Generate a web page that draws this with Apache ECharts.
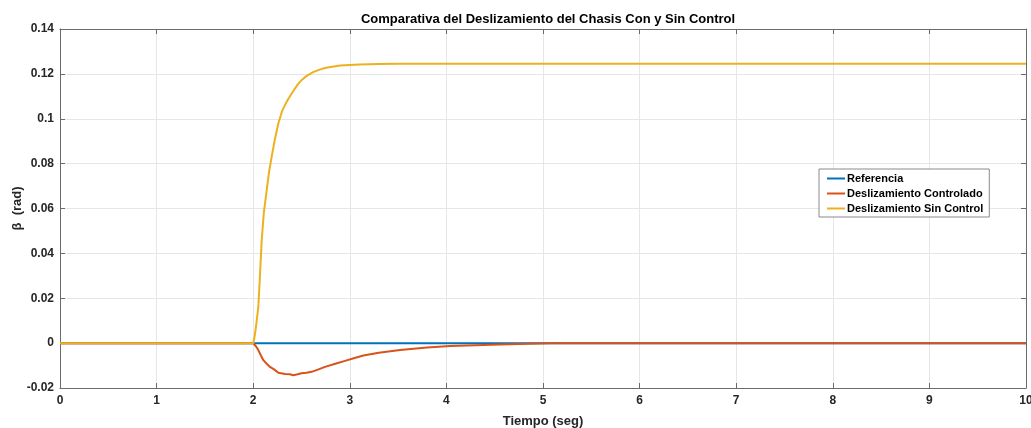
<!DOCTYPE html>
<html>
<head>
<meta charset="utf-8">
<script src="https://cdn.jsdelivr.net/npm/echarts@6/dist/echarts.min.js"></script>
<style>html,body{margin:0;padding:0;background:#fff}#c{width:1031px;height:428px}</style>
</head>
<body>
<div id="c"></div>
<script>
const seriesNames = ["Referencia", "Deslizamiento Controlado", "Deslizamiento Sin Control"];
const tRef = [0, 10];
const vRef = [0, 0];
const tCtrl = [0, 2.0, 2.03, 2.053, 2.08, 2.105, 2.14, 2.174, 2.22, 2.26, 2.33, 2.38, 2.415, 2.46, 2.5, 2.55, 2.605, 2.67, 2.743, 2.85, 2.95, 3.05, 3.14, 3.3, 3.52, 3.8, 4.04, 4.3, 4.55, 5.07, 6, 10];
const vCtrl = [0, 0, -0.0015, -0.0031, -0.0055, -0.0076, -0.0092, -0.0106, -0.0118, -0.0132, -0.0138, -0.0139, -0.0143, -0.0139, -0.0134, -0.0132, -0.0128, -0.0118, -0.0106, -0.0092, -0.0079, -0.0066, -0.0055, -0.0043, -0.0031, -0.0020, -0.0013, -0.0009, -0.0006, -0.0001, 0, 0];
const tFree = [0, 2.0, 2.01, 2.02, 2.035, 2.053, 2.07, 2.088, 2.11, 2.14, 2.165, 2.191, 2.225, 2.26, 2.3, 2.33, 2.363, 2.42, 2.46, 2.5, 2.55, 2.62, 2.68, 2.743, 2.8, 2.9, 3.0, 3.1, 3.3, 3.5, 4, 10];
const vFree = [0, 0, 0.0018, 0.0045, 0.0095, 0.0162, 0.030, 0.0459, 0.058, 0.0682, 0.0765, 0.0830, 0.0910, 0.0979, 0.1035, 0.1062, 0.1088, 0.1127, 0.1152, 0.1172, 0.1190, 0.1208, 0.1218, 0.1226, 0.1231, 0.1237, 0.1240, 0.1242, 0.1244, 0.1245, 0.1245, 0.1245];
const xTicks = {min: 0, max: 10, interval: 1};
const yTicks = {min: -0.02, max: 0.14, interval: 0.02};

const zip = (t, v) => t.map((x, i) => [x, v[i]]);
const fnt = '"Liberation Sans", Arial, sans-serif';
const fmtY = v => String(parseFloat(v.toFixed(2)));
const axisLineCol = '#6b6b6b';
const labelCol = '#262626';

const chart = echarts.init(document.getElementById('c'), null, {renderer: 'canvas'});
chart.setOption({
  animation: false,
  backgroundColor: '#ffffff',
  title: {
    text: 'Comparativa del Deslizamiento del Chasis Con y Sin Control',
    left: 543, top: 8, textAlign: 'center',
    textStyle: {fontFamily: fnt, fontSize: 13, fontWeight: 'bold', color: '#000'}
  },
  grid: {left: 60, top: 29, right: 5, bottom: 40, containLabel: false, outerBoundsMode: 'none'},
  legend: {
    data: seriesNames,
    orient: 'vertical',
    left: 819, top: 169,
    itemWidth: 18, itemHeight: 2, itemGap: 4,
    icon: 'rect',
    padding: [4, 6, 3, 8],
    backgroundColor: '#fff',
    borderColor: '#8a8a8a', borderWidth: 1,
    textStyle: {fontFamily: fnt, fontSize: 11, fontWeight: 'bold', color: '#000', padding: [0, 0, 0, -3]}
  },
  xAxis: [{
    type: 'value', position: 'bottom', ...xTicks,
    name: 'Tiempo (seg)', nameLocation: 'middle', nameGap: 27, nameMoveOverlap: false,
    nameTextStyle: {fontFamily: fnt, fontSize: 13, fontWeight: 'bold', color: labelCol},
    axisLine: {show: true, onZero: false, lineStyle: {color: axisLineCol, width: 1}},
    axisTick: {show: true, inside: true, length: 5, lineStyle: {color: axisLineCol}},
    axisLabel: {fontFamily: fnt, fontSize: 12, fontWeight: 'bold', color: labelCol, margin: 7},
    splitLine: {show: true, lineStyle: {color: '#e6e6e6', width: 1}}
  }, {
    type: 'value', position: 'top', ...xTicks,
    axisLine: {show: true, onZero: false, lineStyle: {color: axisLineCol, width: 1}},
    axisTick: {show: true, inside: true, length: 5, lineStyle: {color: axisLineCol}},
    axisLabel: {show: false}, splitLine: {show: false}
  }],
  yAxis: [{
    type: 'value', position: 'left', ...yTicks,
    name: 'β  (rad)', nameLocation: 'middle', nameGap: 36, nameMoveOverlap: false,
    nameTextStyle: {fontFamily: fnt, fontSize: 13, fontWeight: 'bold', color: labelCol},
    axisLine: {show: true, onZero: false, lineStyle: {color: axisLineCol, width: 1}},
    axisTick: {show: true, inside: true, length: 5, lineStyle: {color: axisLineCol}},
    axisLabel: {fontFamily: fnt, fontSize: 12, fontWeight: 'bold', color: labelCol, margin: 6, formatter: fmtY},
    splitLine: {show: true, lineStyle: {color: '#e6e6e6', width: 1}}
  }, {
    type: 'value', position: 'right', ...yTicks,
    axisLine: {show: true, onZero: false, lineStyle: {color: axisLineCol, width: 1}},
    axisTick: {show: true, inside: true, length: 5, lineStyle: {color: axisLineCol}},
    axisLabel: {show: false}, splitLine: {show: false}
  }],
  series: [
    {name: seriesNames[0], type: 'line', data: zip(tRef, vRef), showSymbol: false, symbol: 'none',
     lineStyle: {color: '#0072BD', width: 2}, itemStyle: {color: '#0072BD'}},
    {name: seriesNames[1], type: 'line', data: zip(tCtrl, vCtrl), showSymbol: false, symbol: 'none',
     lineStyle: {color: '#D95319', width: 2}, itemStyle: {color: '#D95319'}},
    {name: seriesNames[2], type: 'line', data: zip(tFree, vFree), showSymbol: false, symbol: 'none',
     lineStyle: {color: '#EDB120', width: 2}, itemStyle: {color: '#EDB120'}}
  ]
});
</script>
</body>
</html>
